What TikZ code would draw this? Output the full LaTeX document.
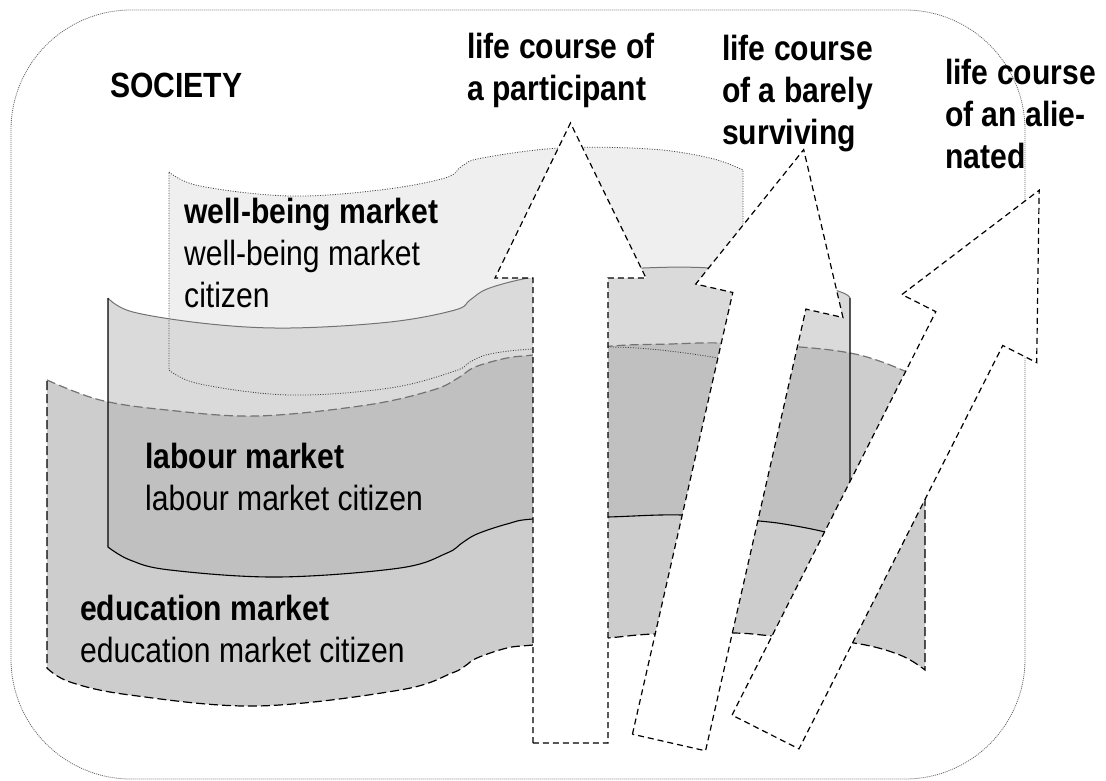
\documentclass[tikz,border=0pt]{standalone}
\usepackage{fontspec}
\setmainfont{Liberation Sans}[FakeStretch=0.86]
\definecolor{wfill}{HTML}{EFEFEF}
\definecolor{lfill}{HTML}{DADADA}
\definecolor{efill}{HTML}{CDCDCD}
\definecolor{lefill}{HTML}{C0C0C0}
\newcommand\Wshape{plot[smooth,tension=0.6] coordinates {(169,172) (200,186) (290,196) (380,190) (445,178) (462,166) (482,158) (560,148) (650,149) (710,158) (743,170)} -- plot[smooth,tension=0.6] coordinates {(743,365) (718,358) (660,350) (608,347) (533,349) (490,354) (470,362) (455,371) (390,388) (290,395) (200,384) (169,370)} -- cycle}
\newcommand\Ltop{(108,298) (133,312) (210,324) (290,328) (390,322) (455,310) (470,300) (487,289) (523,279) (560,274) (643,268) (710,268) (780,276) (838,291) (850,298)}
\newcommand\Lbot{(850,540) (825,532) (790,525) (759,521) (682,515) (608,517) (533,519) (507,524) (477,534) (462,543) (447,553) (400,568) (278,577) (170,570) (130,560) (108,547)}
\newcommand\Lshape{plot[smooth,tension=0.6] coordinates {\Ltop} -- plot[smooth,tension=0.6] coordinates {\Lbot} -- cycle}
\newcommand\Etop{(47,380) (100,400) (167,410) (257,416) (367,405) (433,390) (458,378) (475,367) (507,358) (533,355) (612,346) (670,344) (722,343) (800,347) (850,353) (885,363) (925,380)}
\newcommand\Ebot{(925,670) (900,655) (854,643) (773,636) (733,633) (654,634) (608,638) (533,645) (507,648) (477,658) (465,666) (452,673) (400,690) (257,706) (130,695) (70,682) (47,668)}
\newcommand\Eshape{plot[smooth,tension=0.6] coordinates {\Etop} -- plot[smooth,tension=0.6] coordinates {\Ebot} -- cycle}
\begin{document}
\begin{tikzpicture}[x=1pt,y=-1pt,
  txt/.style={anchor=base west, inner sep=0pt, align=left, font=\fontsize{35}{42}\selectfont},
  ttl/.style={anchor=base west, inner sep=0pt, align=left, font=\fontsize{35}{42}\selectfont\bfseries},
  arrowbox/.style={fill=white, draw=black, line width=1.2pt, dash pattern=on 6pt off 4pt},
  society/.style={draw=black!60, line width=0.8pt, dash pattern=on 1pt off 1pt},
  wline/.style={draw=black!75, line width=0.8pt, dash pattern=on 1pt off 1.5pt},
  etop/.style={draw=black!55, line width=1.2pt, dash pattern=on 9pt off 4pt},
  eline/.style={draw=black, line width=1.2pt, dash pattern=on 9pt off 4pt},
  ltop/.style={draw=black!55, line width=1pt},
  lline/.style={draw=black, line width=1.1pt}]
\useasboundingbox (0,0) rectangle (1106,780);
% fills of the three markets
\fill[wfill] \Wshape;
\fill[lfill] \Lshape;
\fill[efill] \Eshape;
\begin{scope}
  \clip \Lshape;
  \fill[lefill] \Eshape;
\end{scope}
% borders
\draw[wline] \Wshape;
\draw[etop] plot[smooth,tension=0.6] coordinates {\Etop};
\draw[eline] (925,380) -- plot[smooth,tension=0.6] coordinates {\Ebot} -- (47,380);
\draw[ltop] plot[smooth,tension=0.6] coordinates {\Ltop};
\draw[lline] (850,298) -- plot[smooth,tension=0.6] coordinates {\Lbot} -- (108,298);
% society frame
\draw[society, rounded corners=120pt] (11,10) rectangle (1025,779);
% life course arrows
\begin{scope}[shift={(570.5,743)}]
  \draw[arrowbox] (-37.5,0) -- (-37.5,-465) -- (-75.5,-465) -- (0,-620) -- (75.5,-465) -- (37.5,-465) -- (37.5,0) -- cycle;
\end{scope}
\begin{scope}[shift={(669,742.5)}, rotate=-12.8]
  \draw[arrowbox] (-37.5,0) -- (-37.5,-453) -- (-75.5,-453) -- (0,-608) -- (75.5,-453) -- (37.5,-453) -- (37.5,0) -- cycle;
\end{scope}
\begin{scope}[shift={(765.5,732)}, rotate=-26.8]
  \draw[arrowbox] (-37.5,0) -- (-37.5,-452) -- (-75.5,-452) -- (0,-607) -- (75.5,-452) -- (37.5,-452) -- (37.5,0) -- cycle;
\end{scope}
% texts (anchor at the baseline of the last line)
\node[ttl] (soc) at (110,97) {SOCIETY};
\node[txt] (wb) at (184,307) {\textbf{well-being market}\\well-being market\\citizen};
\node[txt] (lab) at (145,510) {\textbf{labour market}\\labour market citizen};
\node[txt] (edu) at (80,662) {\textbf{education market}\\education market citizen};
\node[ttl] (lc1) at (467,100) {life course of\\a participant};
\node[ttl] (lc2) at (722,144) {life course\\of a barely\\surviving};
\node[ttl] (lc3) at (945,168) {life course\\of an alie-\\nated};
\end{tikzpicture}
\end{document}
